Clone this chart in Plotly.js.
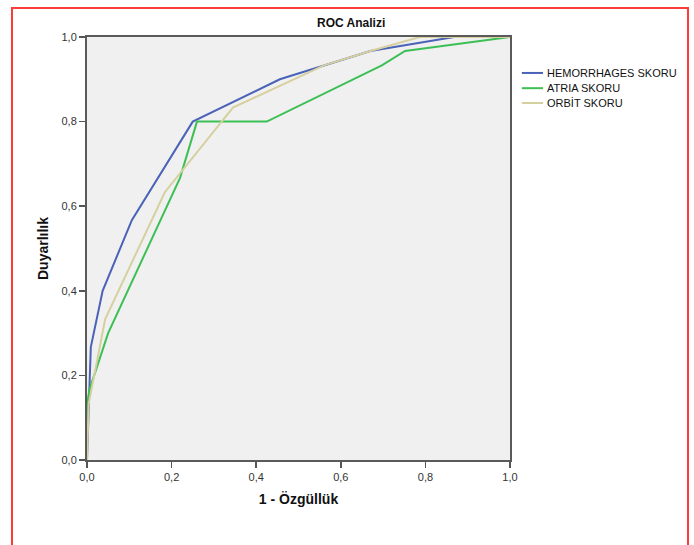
<!DOCTYPE html>
<html>
<head>
<meta charset="utf-8">
<script src="https://cdn.plot.ly/plotly-3.0.1.min.js"></script>
<style>
  html, body { margin: 0; padding: 0; background: #ffffff; }
  #frame {
    position: absolute; left: 11px; top: 7px; width: 678px; height: 560px;
    border: 2px solid #ff3a3a; box-sizing: border-box; pointer-events: none; z-index: 2;
  }
  #chart { position: absolute; left: 0; top: 0; width: 694px; height: 545px; }
</style>
</head>
<body>
<div id="chart"></div>
<div id="frame"></div>
<script>
// ROC curves: 1 - specificity (x) against sensitivity (y) for each score
const seriesNames = ['HEMORRHAGES SKORU', 'ATRIA SKORU', 'ORBİT SKORU'];

const hemorrhagesFpr  = [0, 0.009, 0.037, 0.106, 0.25, 0.456, 0.67, 0.868, 1];
const hemorrhagesSens = [0, 0.267, 0.4, 0.567, 0.8, 0.9, 0.967, 1, 1];

const atriaFpr  = [0, 0, 0.006, 0.05, 0.22, 0.26, 0.425, 0.697, 0.752, 1];
const atriaSens = [0, 0.133, 0.167, 0.3, 0.667, 0.8, 0.8, 0.933, 0.967, 1];

const orbitFpr  = [0, 0.004, 0.043, 0.184, 0.345, 0.56, 0.67, 0.787, 1];
const orbitSens = [0, 0.133, 0.333, 0.633, 0.833, 0.933, 0.967, 1, 1];

const tickValues = [0, 0.2, 0.4, 0.6, 0.8, 1.0];
const lineColors = ['#4a62b8', '#3cbf55', '#d6d0a0'];

const xs = [hemorrhagesFpr, atriaFpr, orbitFpr];
const ys = [hemorrhagesSens, atriaSens, orbitSens];

const traces = seriesNames.map((name, i) => ({
  type: 'scatter',
  mode: 'lines',
  name: name,
  x: xs[i],
  y: ys[i],
  line: { color: lineColors[i], width: 2 },
  showlegend: false,
  hoverinfo: 'x+y+name'
}));

// Legend drawn as short line samples with labels beside the plot
const legendRowsY = [0.915, 0.879, 0.844];
const shapes = seriesNames.map((n, i) => ({
  type: 'line', xref: 'paper', yref: 'paper',
  x0: 1.028, x1: 1.078, y0: legendRowsY[i], y1: legendRowsY[i],
  line: { color: lineColors[i], width: 2 }
}));
const annotations = seriesNames.map((n, i) => ({
  xref: 'paper', yref: 'paper', x: 1.082, y: legendRowsY[i],
  xanchor: 'left', yanchor: 'middle', showarrow: false,
  text: n, font: { family: 'Liberation Sans, Arial, sans-serif', size: 11, color: '#111' }
}));

const axisCommon = {
  range: [0, 1],
  tickvals: tickValues,
  tickformat: '.1f',
  ticks: 'outside',
  ticklen: 6,
  tickwidth: 1.5,
  tickcolor: '#555',
  showline: true,
  mirror: true,
  linecolor: '#5a5a5a',
  linewidth: 2,
  showgrid: false,
  zeroline: false,
  fixedrange: true,
  tickfont: { family: 'Liberation Sans, Arial, sans-serif', size: 11, color: '#333' }
};

const layout = {
  width: 694,
  height: 545,
  margin: { l: 87, r: 184, t: 37, b: 85 },
  paper_bgcolor: '#ffffff',
  plot_bgcolor: '#f0f0f0',
  separators: ',.',
  title: {
    text: '<b>ROC Analizi</b>',
    font: { family: 'Liberation Sans, Arial, sans-serif', size: 12, color: '#111' },
    x: 0.506, xref: 'container', xanchor: 'center',
    y: 0.958, yref: 'container', yanchor: 'middle'
  },
  xaxis: Object.assign({}, axisCommon, {
    title: {
      text: '<b>1 - Özgüllük</b>',
      font: { family: 'Liberation Sans, Arial, sans-serif', size: 14, color: '#111' },
      standoff: 12
    }
  }),
  yaxis: Object.assign({}, axisCommon, {
    title: {
      text: '<b>Duyarlılık</b>',
      font: { family: 'Liberation Sans, Arial, sans-serif', size: 14, color: '#111' },
      standoff: 10
    }
  }),
  shapes: shapes,
  annotations: annotations
};

Plotly.newPlot('chart', traces, layout, { displayModeBar: false, staticPlot: true });
</script>
</body>
</html>
